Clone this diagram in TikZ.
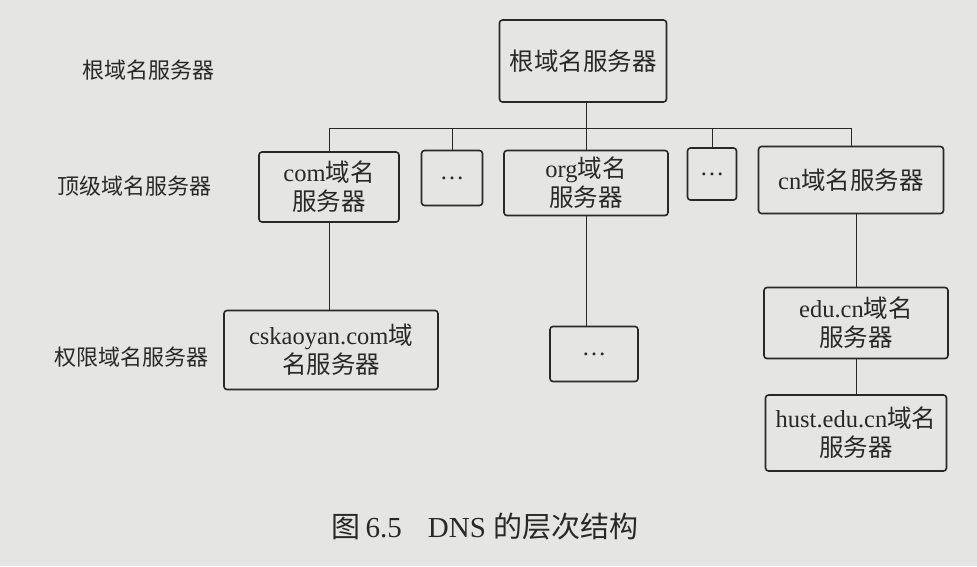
\documentclass[tikz,border=0pt]{standalone}
\usepackage{fontspec}
\setmainfont{Liberation Serif}
\newfontfamily\cjk{Noto Sans CJK SC}
\newcommand{\zh}[1]{{\cjk #1}}
\definecolor{paper}{RGB}{229,229,227}
\definecolor{ink}{RGB}{40,40,40}
\begin{document}
\begin{tikzpicture}[x=1pt,y=-1pt,
  srv/.style={draw=ink, line width=1.6pt, rounded corners=3pt, inner sep=0pt, align=center,
    text=ink, font=\fontsize{24.5}{29}\selectfont},
  lvl/.style={text=ink, font=\fontsize{22}{25}\selectfont, inner sep=0pt},
  link/.style={draw=ink, line width=1pt}]
\fill[paper] (0,0) rectangle (977,566);
\useasboundingbox (0,0) rectangle (977,566);
% level labels
\node[lvl] (l1) at (148,70) {\zh{根域名服务器}};
\node[lvl] (l2) at (134,186) {\zh{顶级域名服务器}};
\node[lvl] (l3) at (131,357) {\zh{权限域名服务器}};
% root
\node[srv, minimum width=167pt, minimum height=82pt] (root) at (583,61) {\zh{根域名服务器}};
% top level
\node[srv, minimum width=140pt, minimum height=70pt] (com) at (329,187) {com\zh{域名}\\\zh{服务器}};
\node[srv, minimum width=61pt, minimum height=55pt] (d1) at (452,178) {\ldots};
\node[srv, minimum width=164pt, minimum height=65pt] (org) at (586,183) {org\zh{域名}\\\zh{服务器}};
\node[srv, minimum width=49pt, minimum height=52pt] (d2) at (712,174) {\ldots};
\node[srv, minimum width=185pt, minimum height=67pt] (cn) at (851,180) {cn\zh{域名服务器}};
% lower level
\node[srv, minimum width=214pt, minimum height=79pt] (cs) at (331,350) {cskaoyan.com\zh{域}\\\zh{名服务器}};
\node[srv, minimum width=88pt, minimum height=55pt] (d3) at (594,354) {\ldots};
\node[srv, minimum width=184pt, minimum height=71pt] (edu) at (856,323) {edu.cn\zh{域名}\\\zh{服务器}};
\node[srv, minimum width=181pt, minimum height=76pt] (hust) at (856,433) {hust.edu.cn\zh{域名}\\\zh{服务器}};
% connectors
\coordinate (bus) at (586,128);
\draw[link] (root.south -| bus) -- (bus);
\draw[link] (com.north) |- (bus);
\draw[link] (cn.north) |- (bus);
\draw[link] (d1.north) -- (d1.north |- bus);
\draw[link] (d2.north) -- (d2.north |- bus);
\draw[link] (org.north) -- (bus);
\draw[link] (com.south) -- (com.south |- cs.north);
\draw[link] (org.south) -- (org.south |- d3.north);
\draw[link] (edu.north) -- (edu.north |- cn.south);
\draw[link] (edu.south) -- (hust.north);
% caption
\node[text=ink, font=\fontsize{29}{32}\selectfont, inner sep=0pt] (cap) at (485,527) {\zh{图}\,6.5\hspace{26pt}DNS \zh{的层次结构}};
\end{tikzpicture}
\end{document}
